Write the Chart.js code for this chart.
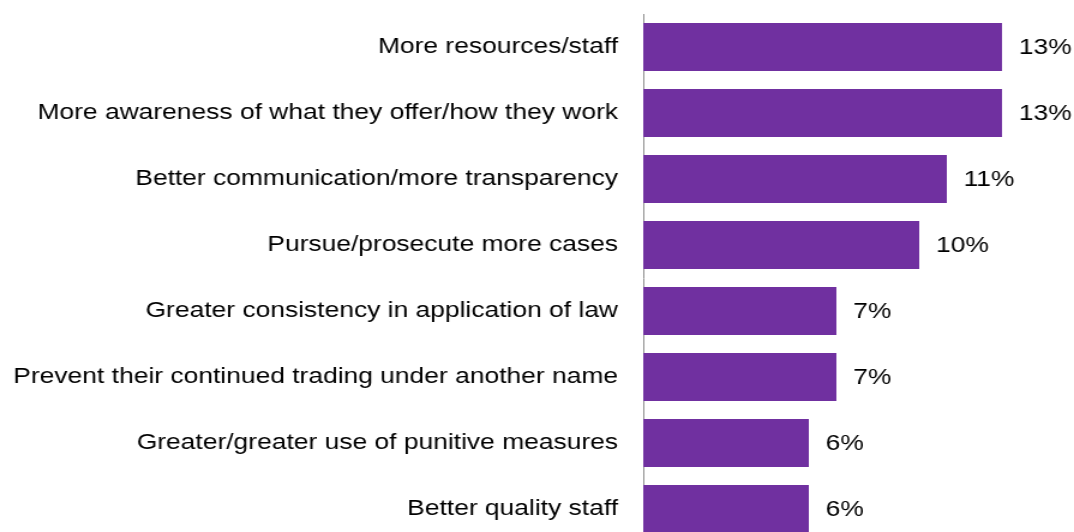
<!DOCTYPE html>
<html>
<head>
<meta charset="utf-8">
<script src="https://cdn.jsdelivr.net/npm/chart.js@4/dist/chart.umd.min.js"></script>
<style>
  html, body { margin: 0; padding: 0; background: #fff; overflow: hidden; }
  #wrap { width: 895px; height: 545px; transform: scaleX(1.2); transform-origin: 0 0; }
</style>
</head>
<body>
<div id="wrap"><canvas id="barChart" width="895" height="545"></canvas></div>
<script>
// ----------------------------
// データ
// ----------------------------

const categories = [
  "More resources/staff",
  "More awareness of what they offer/how they work",
  "Better communication/more transparency",
  "Pursue/prosecute more cases",
  "Greater consistency in application of law",
  "Prevent their continued trading under another name",
  "Greater/greater use of punitive measures",
  "Better quality staff"
];

const percentages = [13, 13, 11, 10, 7, 7, 6, 6];

const xTicks = [0, 5, 10, 15];

// ----------------------------
// 値ラベル
// ----------------------------

const valueLabels = {
  id: "valueLabels",
  afterDatasetsDraw(chart) {
    const ctx = chart.ctx;
    const meta = chart.getDatasetMeta(0);
    ctx.save();
    ctx.font = "22px 'Liberation Sans', Arial, sans-serif";
    ctx.fillStyle = "#000";
    ctx.textAlign = "left";
    ctx.textBaseline = "middle";
    meta.data.forEach((bar, i) => {
      ctx.fillText(percentages[i] + "%", bar.x + 14, bar.y + 1);
    });
    ctx.restore();
  }
};

// ----------------------------
// 横棒グラフ
// ----------------------------

new Chart(document.getElementById("barChart"), {
  type: "bar",
  data: {
    labels: categories,
    datasets: [{
      data: percentages,
      backgroundColor: "#7030A0",
      borderWidth: 0,
      barPercentage: 0.727,
      categoryPercentage: 1
    }]
  },
  options: {
    indexAxis: "y",
    responsive: false,
    animation: false,
    layout: { padding: { top: 14, bottom: 3, right: 14, left: 0 } },
    plugins: {
      legend: { display: false },
      tooltip: { enabled: false }
    },
    scales: {
      x: {
        display: false,
        min: xTicks[0],
        max: xTicks[xTicks.length - 1]
      },
      y: {
        afterFit(scale) {
          scale.width = 536;
          scale.paddingTop = 0;
          scale.paddingBottom = 0;
        },
        grid: { display: false, drawTicks: false },
        border: { display: true, color: "#8c8c8c", width: 1 },
        ticks: {
          padding: 21,
          color: "#000",
          font: { family: "'Liberation Sans', Arial, sans-serif", size: 22 }
        }
      }
    }
  },
  plugins: [valueLabels]
});
</script>
</body>
</html>
